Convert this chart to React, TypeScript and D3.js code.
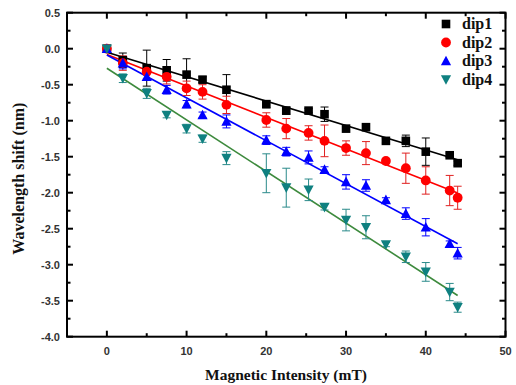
import React from "react";
import * as d3 from "d3";

const fields = [0, 2, 5, 7.5, 10, 12, 15, 20, 22.5, 25.3, 27.3, 30, 32.5, 35, 37.5, 40, 43, 44];
const dip1 = [0, -0.16, -0.27, -0.3, -0.36, -0.43, -0.57, -0.77, -0.86, -0.86, -0.91, -1.11, -1.09, -1.28, -1.28, -1.43, -1.48, -1.59];
const dip1Err = [0, 0.1, 0.25, 0.15, 0.22, 0.04, 0.21, 0.05, 0.05, 0.03, 0.1, 0.03, 0.03, 0.03, 0.08, 0.19, 0.03, 0.03];
const dip2 = [0, -0.2, -0.32, -0.39, -0.55, -0.6, -0.78, -0.99, -1.11, -1.17, -1.28, -1.38, -1.45, -1.56, -1.66, -1.83, -1.97, -2.07];
const dip2Err = [0, 0.1, 0.1, 0.1, 0.1, 0.1, 0.12, 0.1, 0.14, 0.1, 0.22, 0.1, 0.16, 0.03, 0.21, 0.19, 0.21, 0.16];
const dip3 = [0, -0.2, -0.39, -0.57, -0.77, -0.92, -1.01, -1.27, -1.43, -1.51, -1.68, -1.85, -1.9, -2.1, -2.29, -2.48, -2.71, -2.84];
const dip3Err = [0, 0.08, 0.05, 0.06, 0.05, 0.04, 0.09, 0.06, 0.06, 0.09, 0.04, 0.1, 0.08, 0.03, 0.08, 0.12, 0.04, 0.08];
const dip4 = [0, -0.41, -0.62, -0.92, -1.11, -1.25, -1.52, -1.73, -1.93, -1.96, -2.2, -2.38, -2.48, -2.72, -2.89, -3.1, -3.38, -3.59];
const dip4Err = [0, 0.06, 0.07, 0.04, 0.06, 0.05, 0.09, 0.27, 0.27, 0.15, 0.04, 0.15, 0.16, 0.03, 0.08, 0.13, 0.12, 0.07];

const seriesNames = ["dip1", "dip2", "dip3", "dip4"];
const xTicks = [0, 10, 20, 30, 40, 50];
const yTicks = [0.5, 0.0, -0.5, -1.0, -1.5, -2.0, -2.5, -3.0, -3.5, -4.0];

const W = 516, H = 385;
const L = 67, R = 505.5, T = 12.7, B = 336.7;

export default function App() {
  const x = d3.scaleLinear().domain([-5, 50]).range([L, R]);
  const y = d3.scaleLinear().domain([-4, 0.5]).range([B, T]);

  const series = [
    { name: seriesNames[0], vals: dip1, err: dip1Err, color: "#000000", err_c: "#000000", line: "#000000", shape: "square" },
    { name: seriesNames[1], vals: dip2, err: dip2Err, color: "#ff0000", err_c: "#e02020", line: "#ff0000", shape: "circle" },
    { name: seriesNames[2], vals: dip3, err: dip3Err, color: "#0000ff", err_c: "#0000ff", line: "#0000ff", shape: "up" },
    { name: seriesNames[3], vals: dip4, err: dip4Err, color: "#0f8080", err_c: "#2a8a8a", line: "#3d8a3d", shape: "down" },
  ];

  const marker = (shape: string, cx: number, cy: number, color: string, k: string) => {
    const s = 4.3;
    if (shape === "square") return <rect key={k} x={cx - s} y={cy - s} width={2 * s} height={2 * s} fill={color} />;
    if (shape === "circle") return <circle key={k} cx={cx} cy={cy} r={s + 0.6} fill={color} />;
    if (shape === "up") return <path key={k} d={`M${cx},${cy - s - 1} L${cx + s + 0.8},${cy + s} L${cx - s - 0.8},${cy + s} Z`} fill={color} />;
    return <path key={k} d={`M${cx},${cy + s + 1} L${cx + s + 0.8},${cy - s} L${cx - s - 0.8},${cy - s} Z`} fill={color} />;
  };

  const fit = (vals: number[]) => {
    const mx = d3.mean(fields)!;
    const my = d3.mean(vals)!;
    let num = 0, den = 0;
    fields.forEach((f, i) => { num += (f - mx) * (vals[i] - my); den += (f - mx) * (f - mx); });
    const b = num / den;
    const a = my - b * mx;
    return [0, 44].map((f) => [x(f), y(a + b * f)] as [number, number]);
  };

  const xMinor = d3.range(-5, 50.01, 5);
  const yMinor = d3.range(-4, 0.51, 0.25);
  const isMajorX = (v: number) => Math.abs(v % 10) < 1e-6;
  const isMajorY = (v: number) => Math.abs((v * 2) - Math.round(v * 2)) < 1e-6;

  return (
    <svg width={W} height={H} style={{ position: "absolute", left: 0, top: 0, background: "#fff" }}>
      {xMinor.map((v) => {
        const len = isMajorX(v) ? 6 : 3.5;
        return (
          <g key={"xt" + v}>
            <line x1={x(v)} x2={x(v)} y1={B} y2={B - len} stroke="#000" strokeWidth={2} />
            <line x1={x(v)} x2={x(v)} y1={T} y2={T + len} stroke="#000" strokeWidth={2} />
          </g>
        );
      })}
      {yMinor.map((v) => {
        const len = isMajorY(v) ? 6 : 3.5;
        return (
          <g key={"yt" + v}>
            <line x1={L} x2={L + len} y1={y(v)} y2={y(v)} stroke="#000" strokeWidth={2} />
            <line x1={R} x2={R - len} y1={y(v)} y2={y(v)} stroke="#000" strokeWidth={2} />
          </g>
        );
      })}
      <rect x={L} y={T} width={R - L} height={B - T} fill="none" stroke="#000" strokeWidth={2} />

      {xTicks.map((v) => (
        <text key={"xl" + v} x={x(v)} y={355} textAnchor="middle" fontFamily="Liberation Sans, Arial, sans-serif" fontWeight="bold" fontSize={11} fill="#333">{v}</text>
      ))}
      {yTicks.map((v) => (
        <text key={"yl" + v} x={60} y={y(v) + 4} textAnchor="end" fontFamily="Liberation Sans, Arial, sans-serif" fontWeight="bold" fontSize={11} fill="#333">{v.toFixed(1)}</text>
      ))}

      <text x={286} y={380} textAnchor="middle" fontFamily="Liberation Serif, Times New Roman, serif" fontWeight="bold" fontSize={15.5} fill="#111">Magnetic Intensity (mT)</text>
      <text transform={`translate(24,${(T + B) / 2 + 4}) rotate(-90)`} textAnchor="middle" fontFamily="Liberation Serif, Times New Roman, serif" fontWeight="bold" fontSize={16} fill="#111">Wavelength shift (nm)</text>

      {series.map((s) => {
        const p = fit(s.vals);
        return <line key={"fit" + s.name} x1={p[0][0]} y1={p[0][1]} x2={p[1][0]} y2={p[1][1]} stroke={s.line} strokeWidth={1.6} />;
      })}

      {series.map((s) => (
        <g key={"err" + s.name}>
          {fields.map((f, i) => {
            const e = s.err[i];
            if (e <= 0) return null;
            const cx = x(f);
            const y1 = y(s.vals[i] + e), y2 = y(s.vals[i] - e);
            return (
              <g key={i} stroke={s.err_c} strokeWidth={1}>
                <line x1={cx} x2={cx} y1={y1} y2={y2} />
                <line x1={cx - 4} x2={cx + 4} y1={y1} y2={y1} />
                <line x1={cx - 4} x2={cx + 4} y1={y2} y2={y2} />
              </g>
            );
          })}
        </g>
      ))}

      {series.map((s) => (
        <g key={"m" + s.name}>
          {fields.map((f, i) => marker(s.shape, x(f), y(s.vals[i]), s.color, s.name + i))}
        </g>
      ))}

      {series.map((s, i) => (
        <g key={"lg" + s.name}>
          {marker(s.shape, 446, 24 + i * 18.5, s.color, "lgm" + i)}
          <text x={462} y={24 + i * 18.5 + 5} fontFamily="Liberation Serif, Times New Roman, serif" fontWeight="bold" fontSize={16} fill="#111">{s.name}</text>
        </g>
      ))}
    </svg>
  );
}
